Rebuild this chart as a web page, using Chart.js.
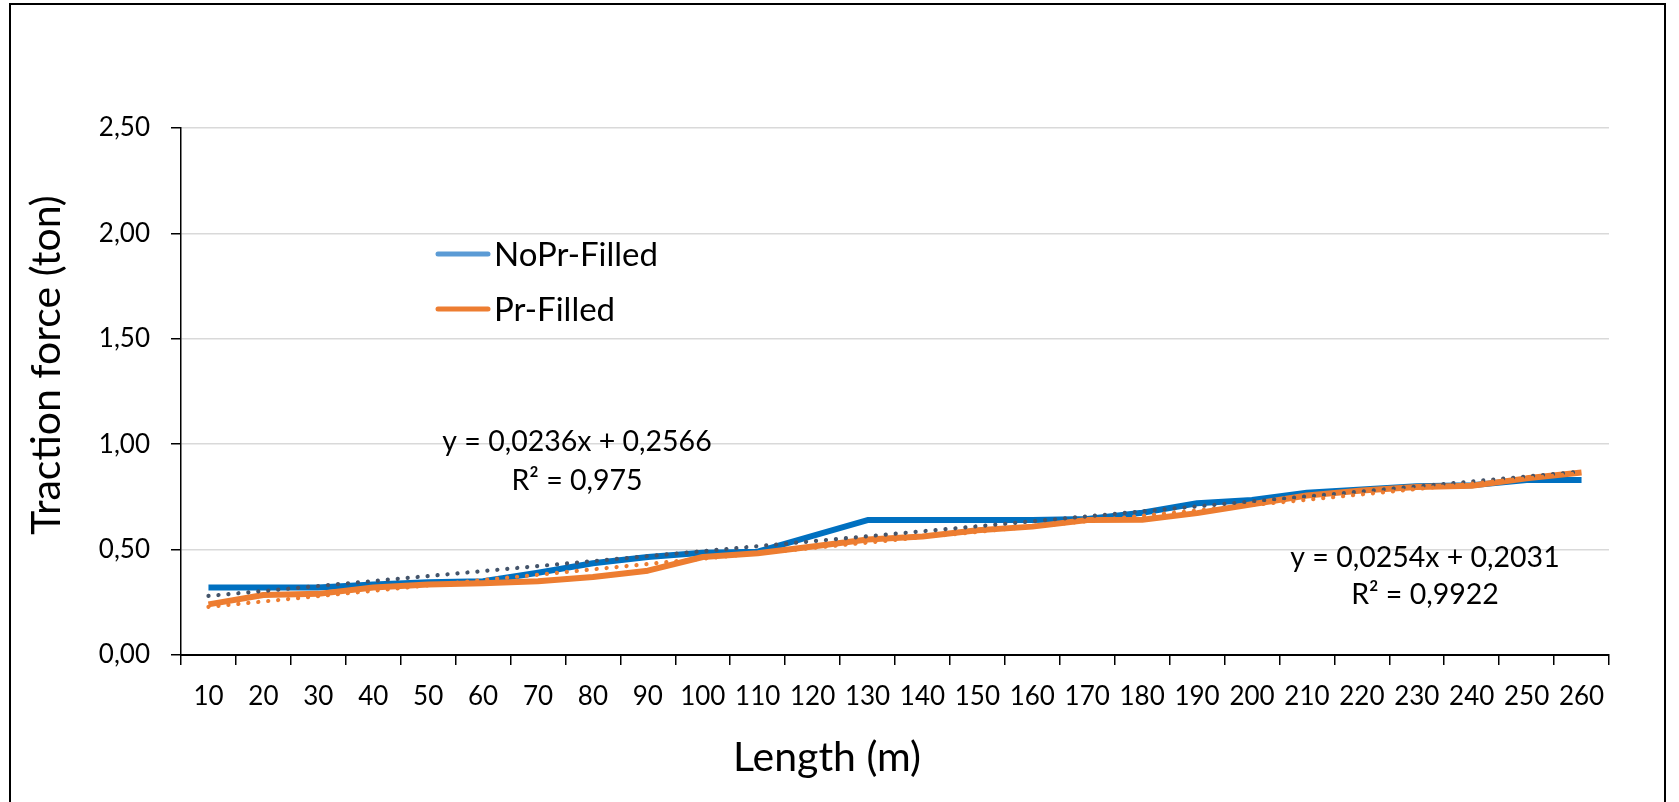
<!DOCTYPE html>
<html><head><meta charset="utf-8">
<script src="https://cdn.jsdelivr.net/npm/chart.js@4.4.1/dist/chart.umd.min.js"></script>
<style>
html,body{margin:0;padding:0;background:#fff;overflow:hidden;}
#wrap{position:relative;width:1679px;height:802px;}
#frame{position:absolute;left:9px;top:3px;width:1657px;height:900px;border:2px solid #000;box-sizing:border-box;pointer-events:none;}
</style></head><body>
<div id="wrap"><canvas id="c"></canvas><div id="frame"></div></div>
<script>
const lengths = [10,20,30,40,50,60,70,80,90,100,110,120,130,140,150,160,170,180,190,200,210,220,230,240,250,260];
const noPrFilled = [0.32,0.32,0.32,0.335,0.345,0.35,0.39,0.435,0.465,0.485,0.49,0.565,0.64,0.64,0.64,0.64,0.645,0.675,0.72,0.735,0.77,0.785,0.80,0.805,0.83,0.83];
const prFilled = [0.24,0.285,0.29,0.32,0.335,0.34,0.35,0.37,0.40,0.465,0.483,0.515,0.548,0.562,0.592,0.609,0.64,0.642,0.673,0.715,0.757,0.78,0.797,0.803,0.838,0.866];
const trendNoPrEnds = [0.2802, 0.8702];
const trendPrEnds = [0.2285, 0.8635];
const yTickValues = [0, 0.5, 1.0, 1.5, 2.0, 2.5];
const trendLabelNoPr = ['y = 0,0236x + 0,2566', 'R\u00B2 = 0,975'];
const trendLabelPr = ['y = 0,0254x + 0,2031', 'R\u00B2 = 0,9922'];
const seriesNames = ['NoPr-Filled', 'Pr-Filled'];
const xTitle = 'Length (m)';
const yTitle = 'Traction force (ton)';

function endsToSeries(ends){
  const arr = new Array(lengths.length).fill(null);
  arr[0] = ends[0];
  arr[arr.length-1] = ends[1];
  return arr;
}

const FONT = 'Lato';
const annot = {
  id: 'annot',
  afterDraw(chart){
    const ctx = chart.ctx;
    ctx.save();
    ctx.fillStyle = '#000';
    // axis titles
    ctx.font = '41px ' + FONT;
    ctx.textAlign = 'center';
    ctx.textBaseline = 'middle';
    ctx.fillText(xTitle, 827, 758);
    ctx.save();
    ctx.translate(47, 365);
    ctx.rotate(-Math.PI/2);
    ctx.fillText(yTitle, 0, 0);
    ctx.restore();
    // trend labels
    ctx.font = '28.5px ' + FONT;
    ctx.fillText(trendLabelNoPr[0], 577, 442);
    ctx.fillText(trendLabelNoPr[1], 577, 481);
    ctx.fillText(trendLabelPr[0], 1425, 558);
    ctx.fillText(trendLabelPr[1], 1425, 595);
    // legend
    const legColors = ['#5B9BD5', '#ED7D31'];
    const legY = [254, 309];
    ctx.font = '33px ' + FONT;
    ctx.textAlign = 'left';
    ctx.lineCap = 'round';
    ctx.lineWidth = 5;
    for (let i = 0; i < 2; i++) {
      ctx.strokeStyle = legColors[i];
      ctx.beginPath();
      ctx.moveTo(438, legY[i]);
      ctx.lineTo(488, legY[i]);
      ctx.stroke();
      ctx.fillText(seriesNames[i], 494, legY[i] + 1);
    }
    ctx.restore();
  }
};

new Chart(document.getElementById('c'), {
  type: 'line',
  data: {
    labels: lengths.map(String),
    datasets: [
      { label: seriesNames[0], data: noPrFilled, borderColor: '#0070C0', backgroundColor: '#0070C0', borderWidth: 6, pointRadius: 0, tension: 0, order: 4, borderJoinStyle: 'round' },
      { label: seriesNames[1], data: prFilled, borderColor: '#ED7D31', backgroundColor: '#ED7D31', borderWidth: 6, pointRadius: 0, tension: 0, order: 3, borderJoinStyle: 'round' },
      { label: 'trendNoPr', data: endsToSeries(trendNoPrEnds), borderColor: '#44546A', borderWidth: 4.2, borderDash: [0.1, 9.9], borderCapStyle: 'round', pointRadius: 0, spanGaps: true, order: 2 },
      { label: 'trendPr', data: endsToSeries(trendPrEnds), borderColor: '#ED7D31', borderWidth: 4.2, borderDash: [0.1, 9.9], borderCapStyle: 'round', pointRadius: 0, spanGaps: true, order: 1 }
    ]
  },
  options: {
    responsive: true,
    maintainAspectRatio: false,
    animation: false,
    events: [],
    layout: { padding: { left: 0, top: 128, right: 70, bottom: 0 } },
    plugins: { legend: { display: false }, tooltip: { enabled: false }, title: { display: false } },
    scales: {
      x: {
        type: 'category',
        offset: true,
        grid: { display: true, drawOnChartArea: false, drawTicks: true, tickLength: 10, offset: true, color: '#000', lineWidth: 1.5 },
        border: { display: true, color: '#000', width: 2 },
        ticks: { color: '#000', font: { family: FONT, size: 26 }, padding: 16, maxRotation: 0, autoSkip: false },
        afterFit(scale){ scale.height = 147; }
      },
      y: {
        min: 0, max: 2.5,
        afterBuildTicks(scale){ scale.ticks = yTickValues.map(v => ({ value: v })); },
        grid: { color: '#D9D9D9', lineWidth: 1.5, tickLength: 10, tickColor: '#000', drawTicks: true },
        border: { display: true, color: '#000', width: 1.5 },
        ticks: { color: '#000', font: { family: FONT, size: 26 }, padding: 21, callback: v => v.toFixed(2).replace('.', ',') },
        afterFit(scale){ scale.width = 181; }
      }
    }
  },
  plugins: [annot]
});
</script>
</body></html>
